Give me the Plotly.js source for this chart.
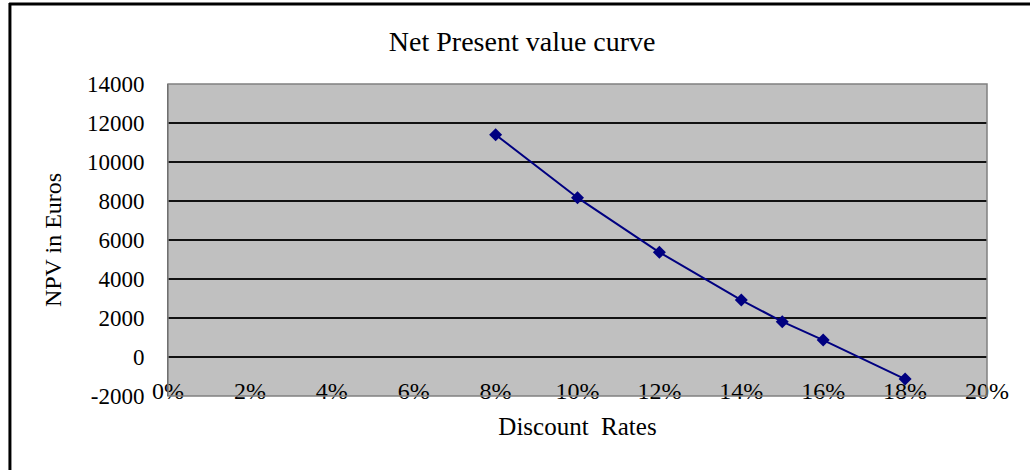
<!DOCTYPE html>
<html>
<head>
<meta charset="utf-8">
<script src="https://cdn.plot.ly/plotly-3.0.1.min.js"></script>
<style>
html,body{margin:0;padding:0;background:#fff;}
#chart{width:1030px;height:470px;}
</style>
</head>
<body>
<div id="chart"></div>
<script>
const rates = [0.08, 0.10, 0.12, 0.14, 0.15, 0.16, 0.18];
const npv = [11400, 8170, 5370, 2920, 1810, 870, -1130];
const xTickVals = [0, 0.02, 0.04, 0.06, 0.08, 0.10, 0.12, 0.14, 0.16, 0.18, 0.20];
const xTickText = ['0%', '2%', '4%', '6%', '8%', '10%', '12%', '14%', '16%', '18%', '20%'];
const yTickVals = [-2000, 0, 2000, 4000, 6000, 8000, 10000, 12000, 14000];
const yTickText = ['-2000', '0', '2000', '4000', '6000', '8000', '10000', '12000', '14000'];

const serif = 'Liberation Serif, Times New Roman, serif';

const trace = {
  x: rates,
  y: npv,
  type: 'scatter',
  mode: 'lines+markers',
  line: {color: '#000080', width: 2},
  marker: {symbol: 'diamond', size: 10, color: '#000080'},
  cliponaxis: false,
  hoverinfo: 'x+y'
};

const layout = {
  width: 1030,
  height: 470,
  margin: {l: 168, r: 43, t: 84, b: 74, pad: 0},
  paper_bgcolor: '#ffffff',
  plot_bgcolor: '#c0c0c0',
  showlegend: false,
  font: {family: serif, color: '#000', size: 22},
  title: {
    text: 'Net Present value curve',
    font: {family: serif, size: 28, color: '#000'},
    x: 0.507, xref: 'container', xanchor: 'center',
    y: 0.912, yref: 'container', yanchor: 'middle'
  },
  xaxis: {
    range: [0, 0.2],
    tickvals: xTickVals,
    ticktext: xTickText,
    showgrid: false,
    zeroline: false,
    showline: false,
    ticks: '',
    anchor: 'free',
    position: 0.072,
    tickfont: {family: serif, size: 24, color: '#000'},
    title: {text: 'Discount  Rates', font: {family: serif, size: 25, color: '#000'}, standoff: 14}
  },
  yaxis: {
    range: [-2000, 14000],
    tickvals: yTickVals,
    ticktext: yTickText,
    showgrid: true,
    gridcolor: '#111111',
    gridwidth: 1.2,
    zeroline: true,
    zerolinecolor: '#111111',
    zerolinewidth: 1.2,
    showline: true,
    linecolor: '#404040',
    linewidth: 1,
    ticks: '',
    ticklabelstandoff: 18,
    tickfont: {family: serif, size: 23, color: '#000'},
    title: {text: 'NPV in Euros', font: {family: serif, size: 24, color: '#000'}, standoff: 18}
  },
  shapes: [
    {type: 'rect', xref: 'paper', yref: 'paper', x0: 0, x1: 1, y0: 0, y1: 1,
     line: {color: '#808080', width: 1.5}, layer: 'above'},
    {type: 'line', xref: 'paper', yref: 'paper', x0: -0.194, x1: 1.06, y0: 1.2564, y1: 1.2564,
     line: {color: '#000', width: 3}},
    {type: 'line', xref: 'paper', yref: 'paper', x0: -0.193, x1: -0.193, y0: 1.26, y1: -0.25,
     line: {color: '#000', width: 3}}
  ]
};

Plotly.newPlot('chart', [trace], layout, {displayModeBar: false, staticPlot: true});
</script>
</body>
</html>
